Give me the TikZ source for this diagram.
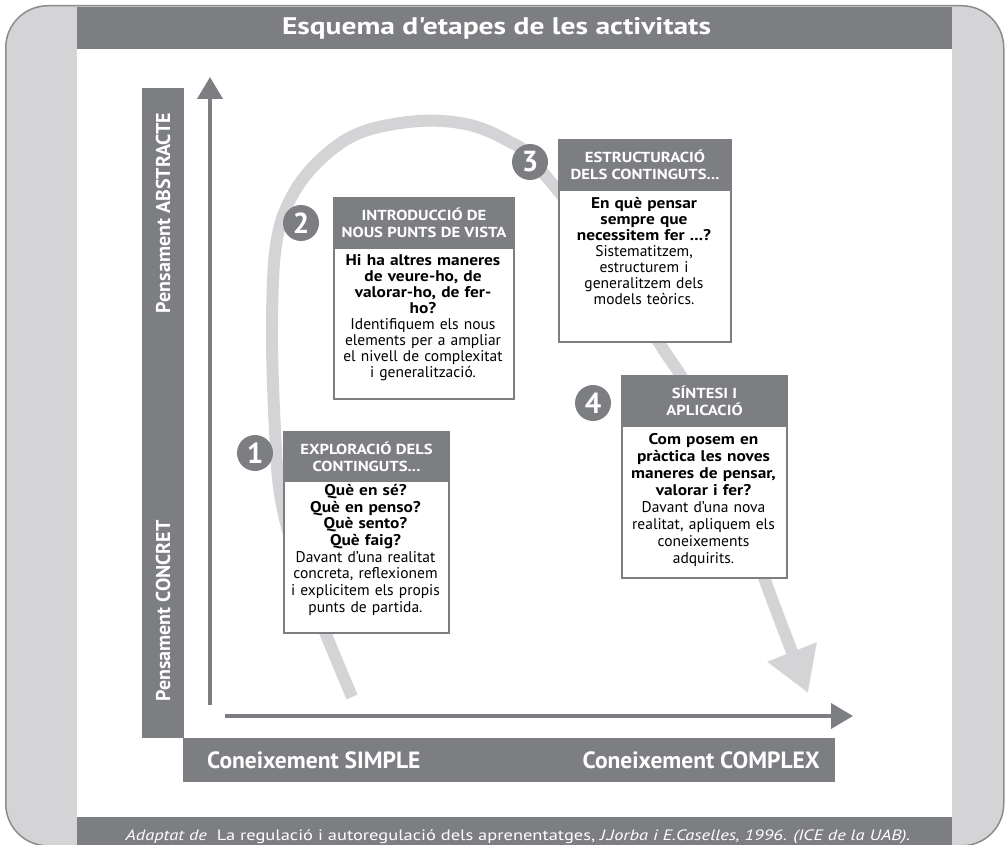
\documentclass[tikz,border=0pt]{standalone}
\usepackage{fontspec}
\setmainfont{PT Sans}
\newfontfamily\wfont[FakeStretch=1.23]{PT Sans}
\newfontfamily\hfont[FakeStretch=1.15]{PT Sans}
\newfontfamily\mfont[FakeStretch=1.12]{PT Sans}
\usetikzlibrary{arrows.meta}
\definecolor{dg}{HTML}{7D7E82}
\definecolor{lg}{HTML}{D4D4D6}
\definecolor{fr}{HTML}{8C8C8F}
\tikzset{
  hdr/.style={fill=dg, draw=dg, line width=2pt, text=white, align=center, inner sep=0pt, anchor=north west,
    font=\hfont\bfseries\fontsize{14.5}{17}\selectfont},
  bodybox/.style={fill=white, draw=dg, line width=2pt, inner sep=0pt, anchor=north west},
  btext/.style={align=center, anchor=north, inner sep=0pt, text=black, text width=200pt},
  num/.style={circle, fill=dg, text=white, minimum size=36pt, inner sep=0pt, font=\bfseries\fontsize{29}{29}\selectfont},
  band/.style={fill=dg, draw=none, inner sep=0pt, anchor=north west},
  axis/.style={dg, line width=4pt, -{Triangle[width=25pt,length=22pt]}},
  bandlabel/.style={text=white, inner sep=0pt, font=\bfseries\fontsize{23.5}{26}\selectfont},
  vlabel/.style={text=white, inner sep=0pt, rotate=90, font=\bfseries\fontsize{20}{22}\selectfont}
}
\newcommand{\bq}[1]{{\mfont\bfseries #1}}
\begin{document}
\begin{tikzpicture}[x=1pt,y=-1pt]
\useasboundingbox (0,0) rectangle (1007,845);
% frame
\node[draw=fr, line width=1.5pt, fill=lg, rounded corners=42pt, minimum width=998pt, minimum height=840pt, anchor=north west, inner sep=0pt] (frame) at (5,5) {};
\node[fill=white, inner sep=0pt, minimum width=875pt, minimum height=770pt, anchor=north west] (panel) at (77,48) {};
\node[band, minimum width=875pt, minimum height=42pt] (head) at (77,7) {};
\node[text=white, font=\wfont\bfseries\fontsize{24}{28}\selectfont, inner sep=0pt, anchor=base] (title) at (496.5,35) {Esquema d'etapes de les activitats};
\node[band, minimum width=875pt, minimum height=28pt] (foot) at (77,817) {};
\node[text=white, font=\wfont\fontsize{15}{18}\selectfont, inner sep=0pt, anchor=base] (src) at (518,840) {\itshape Adaptat de\upshape\ \ La regulació i autoregulació dels aprenentatges, \itshape J.Jorba i E.Caselles, 1996. (ICE de la UAB).};

% axis bands
\node[band, minimum width=42pt, minimum height=650pt] (vband) at (142,88) {};
\node[vlabel] (abs) at (163,213) {Pensament ABSTRACTE};
\node[vlabel] (con) at (163,611) {Pensament CONCRET};
\node[band, minimum width=652pt, minimum height=44pt] (hband) at (183,738) {};
\node[bandlabel, anchor=base west] (simple) at (207,768) {Coneixement SIMPLE};
\node[bandlabel, anchor=base east] (complex) at (820,768) {Coneixement COMPLEX};

% axes
\coordinate (yo) at (210,705);
\coordinate (yt) at (210,77);
\coordinate (xo) at (225,716);
\coordinate (xt) at (853,716);
\draw[axis] (yo) -- (yt);
\draw[axis] (xo) -- (xt);

% process curve
\draw[lg, line width=12pt, -{Triangle[width=50pt,length=44pt]}]
  plot[smooth, tension=0.6] coordinates {(352,697) (327,637) (300,570) (281,500) (275,430) (272,330) (276,245) (292,196) (322,158) (362,132) (420,121) (470,125) (510,142) (532,160) (600,245) (658,341) (690,392) (735,490) (766,583) (808,693)};

% box 1
\node[bodybox, minimum width=165pt, minimum height=152pt] (b1) at (283,480) {};
\node[hdr, minimum width=165pt, minimum height=49pt] (h1) at (283,431) {EXPLORACIÓ DELS\\CONTINGUTS...};
\node[btext, font=\fontsize{15.5}{16.7}\selectfont] (t1) at (365.5,484) {\bq{Què en sé?}\\\bq{Què en penso?}\\\bq{Què sento?}\\\bq{Què faig?}\\Davant d’una realitat\\concreta, reflexionem\\i explicitem els propis\\punts de partida.};

% box 2
\node[bodybox, minimum width=180pt, minimum height=151pt] (b2) at (333,247) {};
\node[hdr, minimum width=180pt, minimum height=50pt] (h2) at (333,197) {INTRODUCCIÓ DE\\NOUS PUNTS DE VISTA};
\node[btext, font=\fontsize{15.5}{16}\selectfont] (t2) at (423,254) {\bq{Hi ha altres maneres}\\\bq{de veure-ho, de}\\\bq{valorar-ho, de fer-}\\\bq{ho?}\\Identifiquem els nous\\elements per a ampliar\\el nivell de complexitat\\i generalització.};

% box 3
\node[bodybox, minimum width=172pt, minimum height=152pt] (b3) at (558,189) {};
\node[hdr, minimum width=172pt, minimum height=50pt] (h3) at (558,139) {ESTRUCTURACIÓ\\DELS CONTINGUTS...};
\node[btext, font=\fontsize{15.5}{16}\selectfont] (t3) at (644,197) {\bq{En què pensar}\\\bq{sempre que}\\\bq{necessitem fer ...?}\\Sistematitzem,\\estructurem i\\generalitzem dels\\models teòrics.};

% box 4
\node[bodybox, minimum width=165pt, minimum height=152pt] (b4) at (621,425) {};
\node[hdr, minimum width=165pt, minimum height=50pt] (h4) at (621,375) {SÍNTESI I\\APLICACIÓ};
\node[btext, font=\fontsize{15.5}{17}\selectfont] (t4) at (703.5,433) {\bq{Com posem en}\\\bq{pràctica les noves}\\\bq{maneres de pensar,}\\\bq{valorar i fer?}\\Davant d’una nova\\realitat, apliquem els\\coneixements\\adquirits.};

% step numbers
\node[num] (n1) at (255,453) {1};
\node[num] (n2) at (301,223) {2};
\node[num] (n3) at (530,162) {3};
\node[num] (n4) at (593,403) {4};
\end{tikzpicture}
\end{document}
